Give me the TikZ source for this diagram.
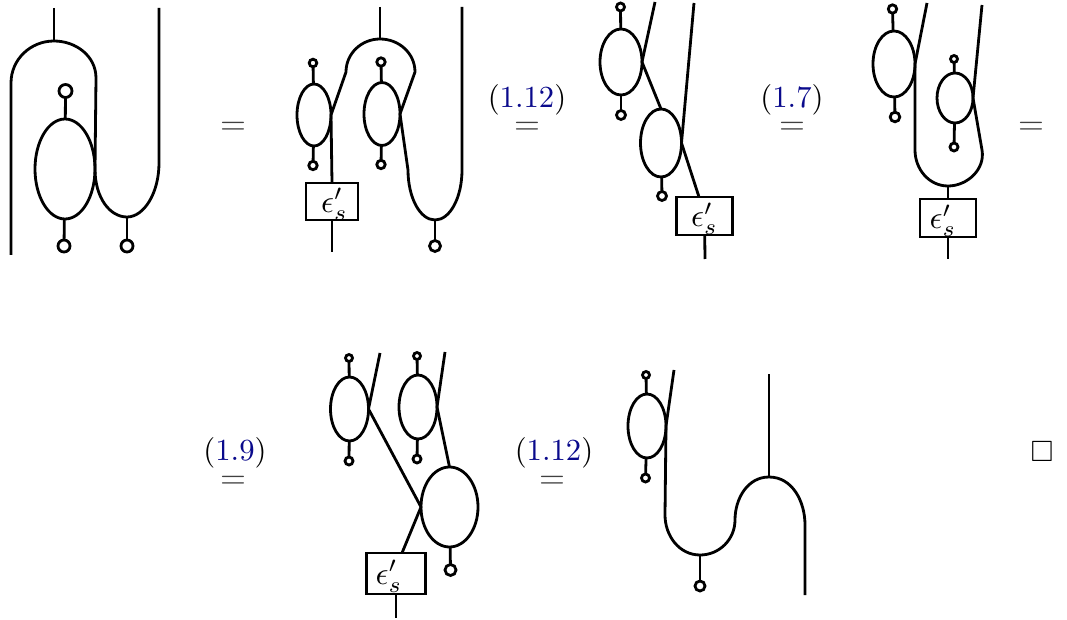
\documentclass[tikz,border=0pt]{standalone}
\usepackage{graphicx}
\usepackage{amssymb}
\usetikzlibrary{shapes.geometric}
\definecolor{refblue}{RGB}{10,10,140}
\tikzset{
  strand/.style={line width=2.1pt,line cap=butt,line join=round},
  oval/.style 2 args={ellipse,draw,line width=2.1pt,inner sep=0pt,outer sep=0pt,minimum width=#1*1.5pt,minimum height=#2*1.5pt},
  ring/.style={circle,draw,line width=2.1pt,inner sep=0pt,outer sep=0pt,minimum size=#1*1.5pt},
  boxy/.style 2 args={rectangle,draw,line width=2.1pt,inner sep=0pt,outer sep=0pt,minimum width=#1*0.75pt,minimum height=#2*0.75pt},
  eqs/.style={inner sep=0pt,scale=2.5,text=black!75},
  ref/.style={inner sep=0pt,scale=2.3}
}
\newcommand{\eqlabel}[1]{(\textcolor{refblue}{#1})}
\newcommand{\epslabel}[1]{\raisebox{-8pt}[0pt][0pt]{\makebox[0pt]{\hspace{#1}\scalebox{2.4}{$\epsilon'_s$}}}}
\begin{document}
\begin{tikzpicture}[x=0.75pt,y=-0.75pt]
\useasboundingbox (0,0) rectangle (1067,620);
% labels
\node[eqs] (eqA) at (233,128) {$=$};
\node[eqs] (eqB) at (527,128) {$=$};
\node[ref] (refB) at (527,99.5) {\eqlabel{1.12}};
\node[eqs] (eqC) at (792,128) {$=$};
\node[ref] (refC) at (792,99.5) {\eqlabel{1.7}};
\node[eqs] (eqD) at (1031,128) {$=$};
\node[eqs] (eqE) at (233,482) {$=$};
\node[ref] (refE) at (235,453) {\eqlabel{1.9}};
\node[eqs] (eqF) at (552,482) {$=$};
\node[ref] (refF) at (554,453) {\eqlabel{1.12}};
\node[inner sep=0pt,scale=2.2] (qed) at (1042,452) {$\square$};

% diagram 1
\node[oval={30}{50}] (a1) at (65,169) {};
\node[ring=6.5] (a1t) at (65.5,91) {};
\node[ring=6] (a1b) at (64,246) {};
\node[ring=6] (a2b) at (127,246) {};
\coordinate (a0) at (11,255);
\coordinate (a2) at (11,83);
\coordinate (a3) at (54,41);
\coordinate (a4) at (96,78);
\coordinate (a5) at (127,217);
\coordinate (a6) at (159,163);
\coordinate (a7) at (159,8);
\coordinate (a8) at (54,8);
\draw[strand] (a0) -- (a2) to[out=90,in=180] (a3) to[out=0,in=90] (a4) -- (a1.east) .. controls +(0,29) and +(-17,0) .. (a5) .. controls +(17,0) and +(0,30) .. (a6) -- (a7);
\draw[strand] (a8) -- (a3);
\draw[strand] (a1) -- (a1t);
\draw[strand] (a1) -- (a1b);
\draw[strand] (a5) -- (a2b);

% diagram 2
\node[oval={17}{31}] (b1) at (314,115) {};
\node[ring=3.8] (b1t) at (313,63) {};
\node[ring=4.2] (b1b) at (313,165.5) {};
\node[oval={18}{31.5}] (b2) at (382,114) {};
\node[ring=4.2] (b2t) at (381,62) {};
\node[ring=4.2] (b2b) at (381,164.5) {};
\node[boxy={52}{37}] (b3) at (332,201.5) {\epslabel{3.8pt}};
\node[ring=5.5] (b4) at (435,246) {};
\coordinate (b5) at (346,72);
\coordinate (b6) at (380,39);
\coordinate (b7) at (415,72);
\coordinate (b8) at (408,170);
\coordinate (b9) at (435,220);
\coordinate (b10) at (462,170);
\coordinate (b11) at (462,7);
\coordinate (b12) at (380,7);
\coordinate (b13) at (332,252);
\draw[strand] (b3.north) -- (b1.east) -- (b5) to[out=90,in=180] (b6) to[out=0,in=90] (b7) -- (b2.east) -- (b8) .. controls +(0,27.6) and +(-15,0) .. (b9) .. controls +(15,0) and +(0,27.6) .. (b10) -- (b11);
\draw[strand] (b12) -- (b6);
\draw[strand] (b3) -- (b13);
\draw[strand] (b1) -- (b1t);
\draw[strand] (b1) -- (b1b);
\draw[strand] (b2) -- (b2t);
\draw[strand] (b2) -- (b2b);
\draw[strand] (b9) -- (b4);

% diagram 3
\node[oval={21}{33}] (c1) at (621,62) {};
\node[ring=4] (c1t) at (620.5,7) {};
\node[ring=4.5] (c1b) at (621,115) {};
\node[oval={20.5}{34}] (c2) at (661,143) {};
\node[ring=4.5] (c2b) at (662,196) {};
\node[boxy={56}{38}] (c3) at (704.5,216) {\epslabel{0pt}};
\coordinate (c4) at (655,2);
\coordinate (c5) at (694,3);
\coordinate (c6) at (699,197);
\coordinate (c7) at (705,259);
\draw[strand] (c4) -- (c1.east) -- (c2.north);
\draw[strand] (c5) -- (c2.east) -- (c6);
\draw[strand] (c3) -- (c7);
\draw[strand] (c1) -- (c1t);
\draw[strand] (c1) -- (c1b);
\draw[strand] (c2) -- (c2b);

% diagram 4
\node[oval={21}{33}] (d1) at (894,64) {};
\node[ring=4.2] (d1t) at (892.5,9) {};
\node[ring=4.8] (d1b) at (895,117) {};
\node[oval={18}{25}] (d2) at (955,98) {};
\node[ring=3.5] (d2t) at (954,59) {};
\node[ring=4] (d2b) at (954,147) {};
\node[boxy={56}{38}] (d3) at (948,218) {\epslabel{-7.5pt}};
\coordinate (d4) at (927,3);
\coordinate (d5) at (915,150);
\coordinate (d6) at (948,186);
\coordinate (d7) at (982,150);
\coordinate (d8) at (982,5);
\coordinate (d9) at (948,259);
\draw[strand] (d4) -- (d1.east) -- (d5) to[out=-90,in=180] (d6) to[out=0,in=-80] (d7) -- (d2.east) -- (d8);
\draw[strand] (d6) -- (d3);
\draw[strand] (d3) -- (d9);
\draw[strand] (d1) -- (d1t);
\draw[strand] (d1) -- (d1b);
\draw[strand] (d2) -- (d2t);
\draw[strand] (d2) -- (d2b);

% diagram 5
\node[oval={19}{32}] (e1) at (349.5,409) {};
\node[ring=3.5] (e1t) at (349,358) {};
\node[ring=4] (e1b) at (349,461) {};
\node[oval={19}{32}] (e2) at (418,407) {};
\node[ring=3.5] (e2t) at (417,356) {};
\node[ring=4] (e2b) at (417,459) {};
\node[oval={28.5}{40}] (e3) at (449.5,507) {};
\node[ring=5.5] (e3b) at (450.5,570) {};
\node[boxy={59}{41}] (e4) at (396,573.5) {\epslabel{-10.5pt}};
\coordinate (e5) at (380,353);
\coordinate (e6) at (445,352);
\coordinate (e7) at (402,553);
\coordinate (e8) at (396,618);
\draw[strand] (e5) -- (e1.east) -- (e3.west) -- (e7);
\draw[strand] (e6) -- (e2.east) -- (e3.north);
\draw[strand] (e4) -- (e8);
\draw[strand] (e1) -- (e1t);
\draw[strand] (e1) -- (e1b);
\draw[strand] (e2) -- (e2t);
\draw[strand] (e2) -- (e2b);
\draw[strand] (e3) -- (e3b);

% diagram 6
\node[oval={19}{32}] (f1) at (647,426) {};
\node[ring=3.5] (f1t) at (646,375) {};
\node[ring=4] (f1b) at (645.5,478) {};
\node[ring=5] (f2) at (700,586) {};
\coordinate (f3) at (674,370);
\coordinate (f4) at (665,515);
\coordinate (f5) at (700,555);
\coordinate (f6) at (735,520);
\coordinate (f7) at (769,477);
\coordinate (f8) at (805,525);
\coordinate (f9) at (805,595);
\coordinate (f10) at (769,374);
\draw[strand] (f3) -- (f1.east) -- (f4) to[out=-90,in=180] (f5) to[out=0,in=-90] (f6) to[out=90,in=180] (f7) to[out=0,in=90] (f8) -- (f9);
\draw[strand] (f10) -- (f7);
\draw[strand] (f5) -- (f2);
\draw[strand] (f1) -- (f1t);
\draw[strand] (f1) -- (f1b);
\end{tikzpicture}
\end{document}
